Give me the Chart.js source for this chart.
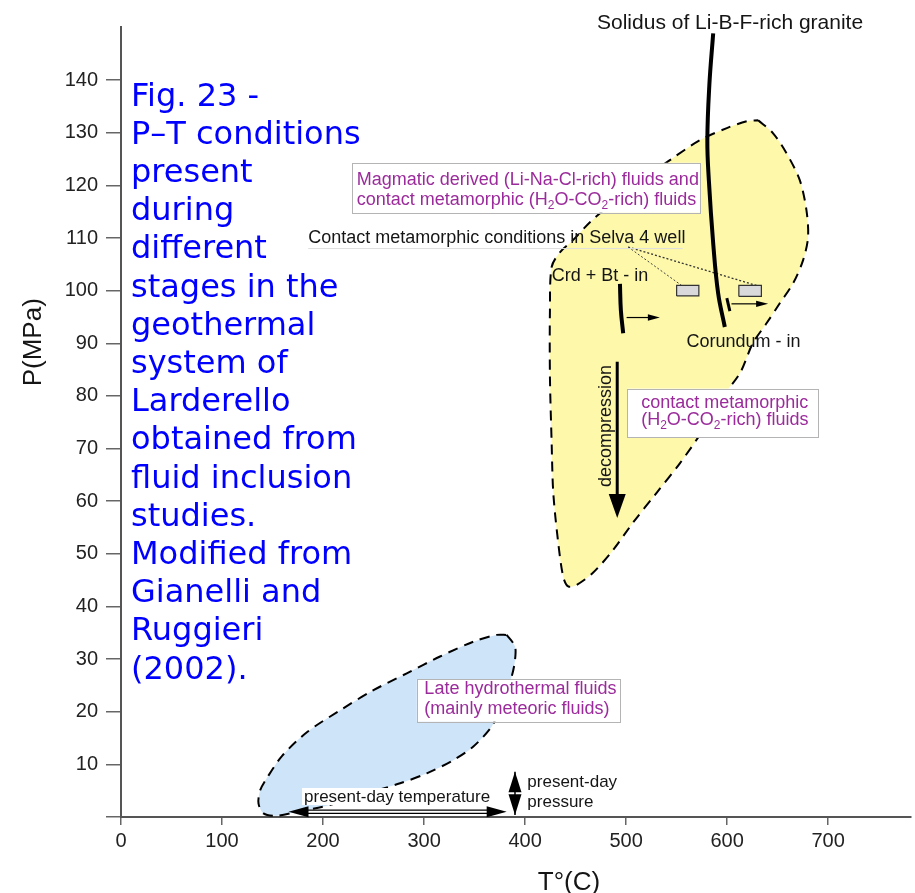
<!DOCTYPE html>
<html><head><meta charset="utf-8">
<script src="https://cdn.jsdelivr.net/npm/chart.js@4.4.1/dist/chart.umd.min.js"></script>
<style>
html,body{margin:0;padding:0;background:#fff;}
#wrap{position:relative;width:915px;height:893px;}
#caption{position:absolute;left:131px;top:75.5px;font-family:'DejaVu Sans',Verdana,sans-serif;font-size:32px;line-height:38.2px;color:#0000ff;white-space:nowrap;pointer-events:none;}
</style></head><body>
<div id="wrap"><canvas id="c" width="915" height="893"></canvas><div id="caption"></div></div>
<script>
// ---------- data (T in °C, P in MPa) ----------
const xTickValues = [0,100,200,300,400,500,600,700];
const yTickValues = [0,10,20,30,40,50,60,70,80,90,100,110,120,130,140];

const captionLines = ['Fig. 23 -','P–T conditions','present','during','different','stages in the','geothermal','system of','Larderello','obtained from','fluid inclusion','studies.','Modified from','Gianelli and','Ruggieri','(2002).'];

// contact metamorphic / magmatic fluids field (yellow)
const contactT = [630.7,645.5,658.8,671.9,678.5,680.1,675.2,665.3,652.1,639.0,625.4,612.6,592.8,576.0,553.2,530.2,506.7,487.0,467.2,451.0,442.7,437.8,432.8,427.9,426.3,424.6,424.6,426.3,434.5,447.4,464.2,484.0,508.7,543.3,573.0,599.7,619.5,630.7];
const contactP = [132.4,129.9,126.1,121.0,115.3,110.2,105.8,101.4,97.6,93.8,90.0,84.3,79.2,73.5,67.2,61.6,55.9,50.7,46.4,44.1,43.8,45.6,52.1,61.6,71.0,83.6,96.3,104.5,107.3,109.6,113.0,116.3,120.1,124.8,128.6,130.9,132.2,132.4];

// late hydrothermal fluids field (blue)
const lateT = [381.8,390.0,390.0,387.0,380.1,373.2,367.0,348.8,329.0,302.7,276.3,243.3,207.0,177.3,154.3,141.0,136.1,137.8,144.4,159.5,184.0,217.1,249.9,282.9,315.8,348.8,371.9,381.8];
const lateP = [34.6,32.4,29.8,26.9,23.2,19.9,17.2,13.4,10.8,8.3,6.4,4.5,2.3,1.1,0.25,0.7,2.6,5.1,7.4,11.6,16.1,20.3,24.1,27.3,30.5,33.3,34.6,34.6];

// solidus of Li-B-F-rich granite
const solidusT = [586.2,582.4,580.4,581.9,586.2,591.1,597.7];
const solidusP = [148.9,139.1,128.6,121.0,109.0,99.5,93.1];

// Crd + Bt - in
const crdT = [493.9,494.8,497.1];
const crdP = [101.3,96.3,91.9];
// Corundum - in
const corT = [599.7,602.7];
const corP = [98.6,96.1];

// Selva 4 well samples (rectangles)
const selva1T = [550,572,572,550,550];
const selva1P = [99,99,101,101,99];
const selva2T = [611.6,633.9,633.9,611.6,611.6];
const selva2P = [98.9,98.9,101,101,98.9];
// connectors from label to samples
const link1T = [502.0,554.9]; const link1P = [108.3,101.0];
const link2T = [502.0,632.3]; const link2P = [108.3,100.8];

// arrows [start, tip]
const decompArrowT = [491.2,491.2]; const decompArrowP = [86.5,56.8];
const crdArrowT = [500.5,533.4]; const crdArrowP = [94.9,94.9];
const corArrowT = [604.3,640.6]; const corArrowP = [97.5,97.5];
const tempArrowT = [165.8,381.8]; const tempArrowP = [1.0,1.0];
const pressArrowT = [390,390]; const pressArrowP = [0.4,8.6];

const pts = (T,P)=>T.map((t,i)=>({x:t,y:P[i]}));

document.getElementById('caption').innerHTML = captionLines.join('<br>');

// ---------- annotation config ----------
const FONT = '"Liberation Sans", Arial, sans-serif';
const PURPLE = '#9b2b9b';
const plainLabels = [
  {t:'Solidus of Li-B-F-rich granite', T:602.9, P:150.8, align:'center', size:21},
  {t:'Contact metamorphic conditions in Selva 4 well', T:185.3, P:110.0, align:'left', size:18},
  {t:'Crd + Bt - in', T:426.3, P:102.8, align:'left', size:18},
  {t:'Corundum - in', T:559.8, P:90.2, align:'left', size:18},
  {t:'present-day', T:402.2, P:6.5, align:'left', size:17},
  {t:'pressure', T:402.2, P:2.7, align:'left', size:17}
];
const boxLabels = [
  {T0:228.5,T1:573,P0:114.8,P1:124.3, align:'left', lines:[
    {t:'Magmatic derived (Li-Na-Cl-rich) fluids and',T:233.4,P:121.0},
    {t:'contact metamorphic (H_2O-CO_2-rich) fluids',T:233.4,P:117.2}]},
  {T0:501.1,T1:690,P0:72.2,P1:81.4, align:'center', lines:[
    {t:'contact metamorphic',T:597.7,P:78.7},
    {t:'(H_2O-CO_2-rich) fluids',T:597.7,P:75.4}]},
  {T0:292.8,T1:493.9,P0:18.1,P1:26.2, align:'left', lines:[
    {t:'Late hydrothermal fluids',T:300.3,P:24.3},
    {t:'(mainly meteoric fluids)',T:300.3,P:20.5}]}
];

function drawRich(ctx, str, px, py, align, size, color){
  const segs=[]; let i=0, buf='';
  while(i<str.length){
    if(str[i]==='_'){ if(buf){segs.push({t:buf,sub:false});buf='';} segs.push({t:str[i+1],sub:true}); i+=2; }
    else { buf+=str[i]; i++; }
  }
  if(buf) segs.push({t:buf,sub:false});
  const fN = size+'px '+FONT, fS = Math.round(size*0.68)+'px '+FONT;
  let w=0; segs.forEach(s=>{ctx.font=s.sub?fS:fN; s.w=ctx.measureText(s.t).width; w+=s.w;});
  let sx = align==='center'? px-w/2 : align==='right'? px-w : px;
  ctx.fillStyle=color; ctx.textAlign='left'; ctx.textBaseline='middle';
  segs.forEach(s=>{ctx.font=s.sub?fS:fN; ctx.fillText(s.t, sx, s.sub? py+size*0.32 : py); sx+=s.w;});
  return w;
}
function head(ctx, tx, ty, fx, fy, len, half){
  const dx=tx-fx, dy=ty-fy, L=Math.hypot(dx,dy)||1, ux=dx/L, uy=dy/L;
  const bx=tx-ux*len, by=ty-uy*len, nx=-uy, ny=ux;
  ctx.beginPath(); ctx.moveTo(tx,ty); ctx.lineTo(bx+nx*half,by+ny*half); ctx.lineTo(bx-nx*half,by-ny*half); ctx.closePath(); ctx.fill();
}

const annot = {
  id:'annot',
  afterDatasetsDraw(chart){
    const {ctx, scales:{x,y}} = chart;
    const X=v=>x.getPixelForValue(v), Y=v=>y.getPixelForValue(v);
    ctx.save();
    // boxed labels
    boxLabels.forEach(b=>{
      const x0=X(b.T0), x1=X(b.T1), y0=Y(b.P1), y1=Y(b.P0);
      ctx.fillStyle='#fff'; ctx.fillRect(x0,y0,x1-x0,y1-y0);
      ctx.strokeStyle='#b4b4b4'; ctx.lineWidth=1; ctx.strokeRect(Math.round(x0)+0.5,Math.round(y0)+0.5,Math.round(x1-x0),Math.round(y1-y0));
      b.lines.forEach(l=>drawRich(ctx,l.t,X(l.T),Y(l.P),b.align,18,PURPLE));
    });
    // faint underline of Selva label
    ctx.strokeStyle='#dedede'; ctx.lineWidth=1;
    ctx.beginPath(); ctx.moveTo(X(185.3),Y(108.1)+0.5); ctx.lineTo(X(556),Y(108.1)+0.5); ctx.stroke();
    // plain labels
    plainLabels.forEach(l=>drawRich(ctx,l.t,X(l.T),Y(l.P),l.align,l.size,'#151515'));
    // present-day temperature label with white background
    ctx.font='17px '+FONT;
    const tw=ctx.measureText('present-day temperature').width;
    ctx.fillStyle='#fff'; ctx.fillRect(X(273.3)-tw/2-2,Y(3.8)-9,tw+4,17);
    drawRich(ctx,'present-day temperature',X(273.3),Y(3.8),'center',17,'#151515');
    // decompression text
    ctx.save(); ctx.translate(X(479)+6,Y(74.3)); ctx.rotate(-Math.PI/2);
    ctx.font='18px '+FONT; ctx.fillStyle='#151515'; ctx.textAlign='center'; ctx.textBaseline='alphabetic';
    ctx.fillText('decompression',0,0); ctx.restore();
    // arrows
    ctx.fillStyle='#000'; ctx.strokeStyle='#000';
    // decompression
    let ax=X(decompArrowT[0]), ay0=Y(decompArrowP[0]), ay1=Y(decompArrowP[1]);
    ctx.lineWidth=3; ctx.beginPath(); ctx.moveTo(ax,ay0); ctx.lineTo(ax,ay1-20); ctx.stroke();
    head(ctx,ax,ay1,ax,ay0,24,8.5);
    // small arrows
    [[crdArrowT,crdArrowP],[corArrowT,corArrowP]].forEach(([T,P])=>{
      const x0=X(T[0]),x1=X(T[1]),yy=Y(P[0]);
      ctx.lineWidth=1.2; ctx.beginPath(); ctx.moveTo(x0,yy); ctx.lineTo(x1-8,yy); ctx.stroke();
      head(ctx,x1,yy,x0,yy,12,3.2);
    });
    // present-day temperature double arrow
    const tx0=X(tempArrowT[0]), tx1=X(tempArrowT[1]), ty=Y(tempArrowP[0]);
    ctx.lineWidth=1.1; ctx.beginPath();
    ctx.moveTo(tx0+10,ty-1.6); ctx.lineTo(tx1-10,ty-1.6);
    ctx.moveTo(tx0+10,ty+1.6); ctx.lineTo(tx1-10,ty+1.6); ctx.stroke();
    head(ctx,tx0,ty,tx1,ty,20,5.5); head(ctx,tx1,ty,tx0,ty,20,5.5);
    // present-day pressure double arrow
    const px=X(pressArrowT[0]), pyb=Y(pressArrowP[0]), pyt=Y(pressArrowP[1]), pm=(pyb+pyt)/2;
    ctx.lineWidth=1.5; ctx.beginPath(); ctx.moveTo(px,pyt); ctx.lineTo(px,pyb); ctx.stroke();
    head(ctx,px,pyt,px,pm,(pm-pyt)-1,6.5); head(ctx,px,pyb,px,pm,(pyb-pm)-1,6.5);
    // axis titles
    ctx.fillStyle='#151515'; ctx.textBaseline='alphabetic'; ctx.textAlign='center';
    ctx.font='26px '+FONT;
    ctx.fillText('T°(C)', X(443.4), 890);
    ctx.save(); ctx.translate(41, Y(90.2)); ctx.rotate(-Math.PI/2);
    ctx.font='26px '+FONT; ctx.fillText('P(MPa)',0,0); ctx.restore();
    ctx.restore();
  }
};

const lineDs = (T,P,extra)=>Object.assign({data:pts(T,P),showLine:true,pointRadius:0,borderColor:'#000',borderWidth:1,fill:false,tension:0}, extra);

new Chart(document.getElementById('c'), {
  type:'line',
  data:{datasets:[
    lineDs(solidusT,solidusP,{borderWidth:4,tension:0.4}),
    lineDs(crdT,crdP,{borderWidth:4,tension:0.4}),
    lineDs(corT,corP,{borderWidth:3}),
    lineDs(selva1T,selva1P,{borderWidth:1.2,borderColor:'#333',backgroundColor:'#d9d9dc',fill:'shape'}),
    lineDs(selva2T,selva2P,{borderWidth:1.2,borderColor:'#333',backgroundColor:'#d9d9dc',fill:'shape'}),
    lineDs(link1T,link1P,{borderWidth:1,borderColor:'#444',borderDash:[2,2]}),
    lineDs(link2T,link2P,{borderWidth:1.3,borderColor:'#333',borderDash:[2,2]}),
    lineDs(contactT,contactP,{borderWidth:2,borderDash:[10,7],backgroundColor:'rgb(253,248,170)',fill:'shape',tension:0.3}),
    lineDs(lateT,lateP,{borderWidth:2,borderDash:[10,7],backgroundColor:'rgb(205,228,249)',fill:'shape',tension:0.3})
  ]},
  options:{
    responsive:false, animation:false, events:[],
    layout:{padding:{top:27,right:4,left:0,bottom:0}},
    plugins:{legend:{display:false},tooltip:{enabled:false}},
    scales:{
      x:{type:'linear',min:0,max:782,
        afterBuildTicks:s=>{s.ticks=xTickValues.map(v=>({value:v}));},
        afterFit:s=>{s.height=76;},
        grid:{drawOnChartArea:false,tickLength:8,color:'#666',lineWidth:1.5},
        border:{color:'#555',width:2},
        ticks:{padding:4,color:'#222',font:{family:FONT,size:20},maxRotation:0,autoSkip:false}},
      y:{type:'linear',min:0,max:150.1,
        afterBuildTicks:s=>{s.ticks=yTickValues.map(v=>({value:v}));},
        afterFit:s=>{s.width=121;},
        grid:{drawOnChartArea:false,tickLength:15,color:'#666',lineWidth:1.5},
        border:{color:'#555',width:2},
        ticks:{padding:8,color:'#222',font:{family:FONT,size:20},autoSkip:false,callback:v=>v===0?'':v}}
    }
  },
  plugins:[annot]
});
</script>
</body></html>
